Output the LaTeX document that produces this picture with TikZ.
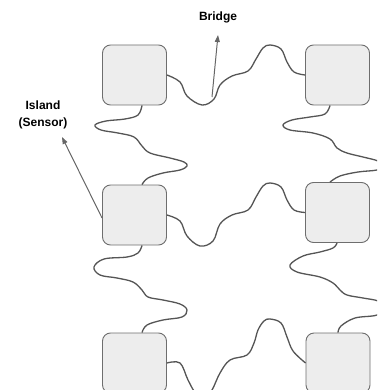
\documentclass[tikz,border=0pt]{standalone}
\usepackage{fontspec}
\setmainfont{Liberation Sans}
\usetikzlibrary{arrows.meta,calc}
\definecolor{boxfill}{HTML}{EDEDED}
\definecolor{boxline}{HTML}{6E6E6E}
\definecolor{wirecol}{HTML}{555555}
\definecolor{arrowcol}{HTML}{666666}
\begin{document}
\begin{tikzpicture}[x=1pt,y=-1pt,
  island/.style={draw=boxline, fill=boxfill, rounded corners=8pt, line width=0.9pt,
    minimum width=64pt, minimum height=60pt, inner sep=0pt},
  wire/.style={draw=wirecol, line width=1.3pt, line join=round},
  callout/.style={draw=arrowcol, line width=1pt, -{Triangle[length=7pt,width=5pt]}},
  lbl/.style={font=\bfseries\fontsize{12}{17}\selectfont, align=center, text=black, inner sep=1pt}]
\path[use as bounding box] (0,0) rectangle (377,390);
\clip (0,0) rectangle (377,390);

% sensor islands
\node[island] (tl) at (134.5,75) {};
\node[island] (tr) at (337.5,75) {};
\node[island] (ml) at (134.5,215) {};
\node[island] (mr) at (337.5,212.5) {};
\node[island] (bl) at (134.5,363) {};
\node[island] (br) at (338,363) {};

% horizontal serpentine bridges
\draw[wire] plot[smooth,tension=0.6] coordinates {(tl.east) (180,82) (187,96) (202,105) (214,99)
  (220,85) (232,76) (248,71) (256,59) (263,48) (270,45) (281,49) (287,62) (294,72) (tr.west)};
\draw[wire] plot[smooth,tension=0.6] coordinates {(ml.east) (180,221) (187,236) (200,246) (213,241)
  (220,224) (232,215) (248,210) (256,197) (263,186) (270,183) (281,187) (287,200) (294,210) (mr.west)};
\draw[wire] plot[smooth,tension=0.6] coordinates {(bl.east) (180,363) (188,380) (196,394) (204,399)
  (212,390) (220,373) (230,360) (247,355) (254,343) (258,330) (264,321) (270,319) (281,323)
  (287,337) (293,351) (br.west)};

% vertical serpentine bridges
\draw[wire] plot[smooth,tension=0.6] coordinates {([xshift=7.5pt]tl.south) (138,115) (125,119)
  (106,121) (95,125) (101,130) (118,133) (134,137) (142,146) (150,153) (170,158) (184,162)
  (187,166) (180,170) (163,173) (148,178) ([xshift=7.5pt]ml.north)};
\draw[wire] plot[smooth,tension=0.6] coordinates {([xshift=7.5pt]ml.south) (138,253) (127,257)
  (104,259) (94,267) (100,275) (117,278) (133,282) (142,290) (148,297) (163,300) (180,304)
  (187,310) (182,317) (163,320) (147,325) ([xshift=7.5pt]bl.north)};
\draw[wire] plot[smooth,tension=0.6] coordinates {([xshift=-7.5pt]tr.south) (325,114) (310,117)
  (292,120) (283,125) (290,130) (313,133) (330,139) (337,148) (347,153) (363,157) (378,161)
  (384,166) (377,170) (358,172) (340,176) ([xshift=-7.5pt]mr.north)};
\draw[wire] plot[smooth,tension=0.6] coordinates {([xshift=-0.5pt]mr.south) (333,248) (320,252)
  (303,256) (290,265) (297,272) (320,277) (333,283) (340,290) (347,295) (363,298) (378,301)
  (384,307) (377,315) (355,318) (341,326) (br.north)};

% callouts
\node[lbl] (bridge) at (218,17) {Bridge};
\node[lbl] (island) at (43,115) {Island\\(Sensor)};
\coordinate (bridgept) at (212,97);
\coordinate (bridgetip) at (218,35);
\coordinate (islandtip) at (62,137);
\draw[callout] (bridgept) -- (bridgetip);
\draw[callout] ([yshift=-3pt]ml.west) -- (islandtip);
\end{tikzpicture}
\end{document}
